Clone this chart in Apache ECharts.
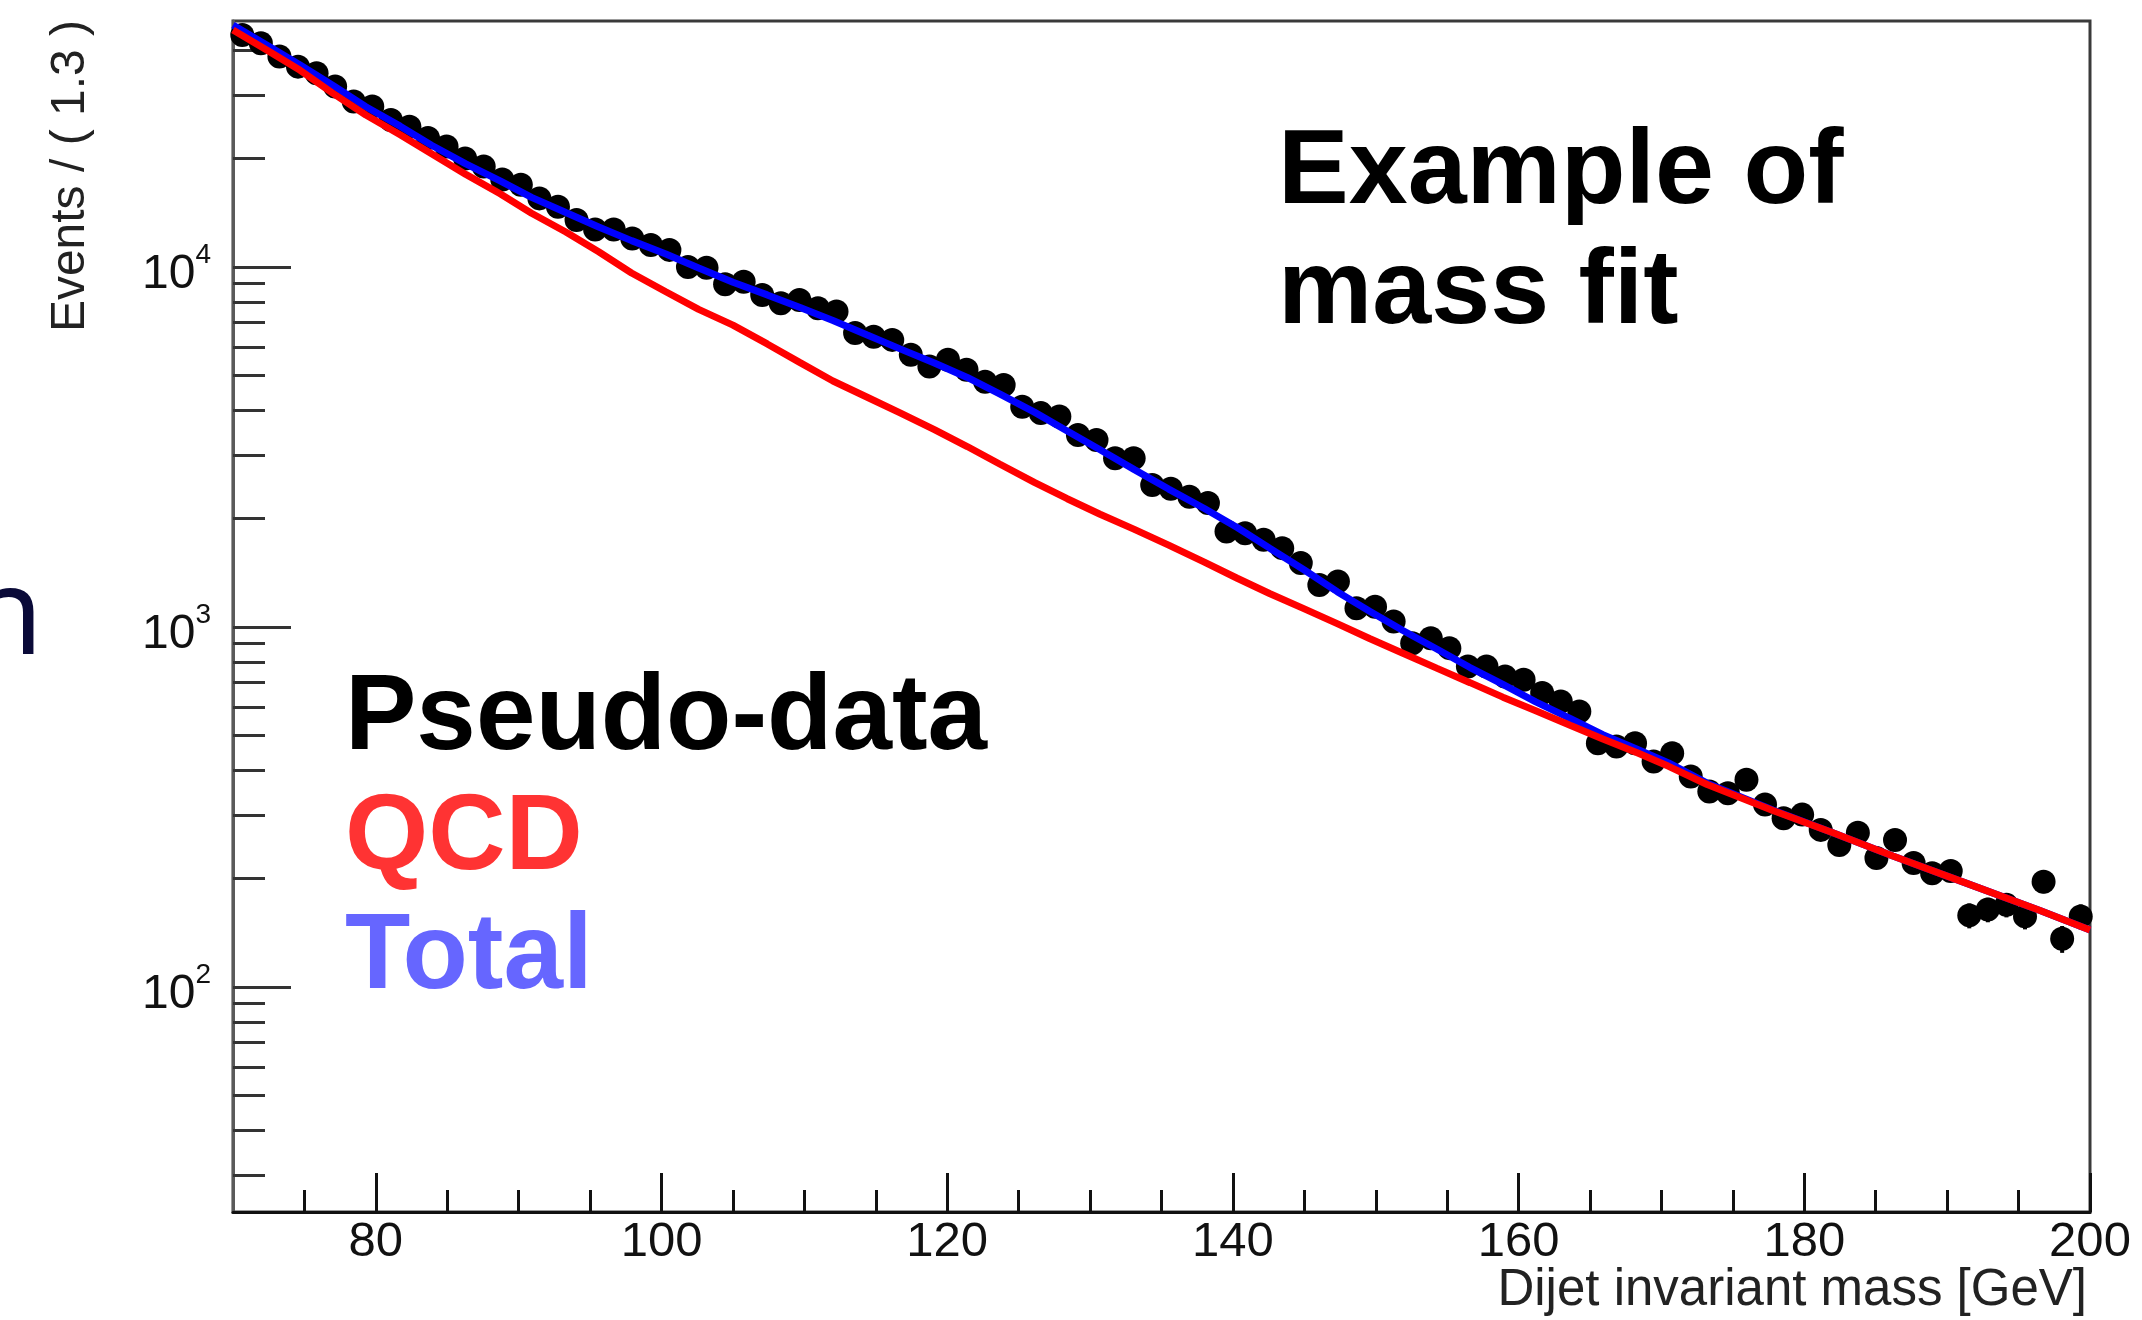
<!DOCTYPE html>
<html><head><meta charset="utf-8">
<script src="https://cdn.jsdelivr.net/npm/echarts@6/dist/echarts.min.js"></script>
<style>html,body{margin:0;padding:0;background:#fff}#c{width:2142px;height:1320px}</style>
</head><body><div id="c"></div>
<script>
// ---- data ----
const binWidth = 1.3;
const binCenters = [70.65,71.95,73.25,74.55,75.85,77.15,78.45,79.75,81.05,82.35,83.65,84.95,86.25,87.55,88.85,90.15,91.45,92.75,94.05,95.35,96.65,97.95,99.25,100.55,101.85,103.15,104.45,105.75,107.05,108.35,109.65,110.95,112.25,113.55,114.85,116.15,117.45,118.75,120.05,121.35,122.65,123.95,125.25,126.55,127.85,129.15,130.45,131.75,133.05,134.35,135.65,136.95,138.25,139.55,140.85,142.15,143.45,144.75,146.05,147.35,148.65,149.95,151.25,152.55,153.85,155.15,156.45,157.75,159.05,160.35,161.65,162.95,164.25,165.55,166.85,168.15,169.45,170.75,172.05,173.35,174.65,175.95,177.25,178.55,179.85,181.15,182.45,183.75,185.05,186.35,187.65,188.95,190.25,191.55,192.85,194.15,195.45,196.75,198.05,199.35];
const pseudoData = [44100,41800,38400,36000,34500,31700,28800,27900,25600,24500,22800,21600,20000,19000,17500,16900,15500,14700,13500,12700,12700,12000,11500,11150,10000,9950,8950,9100,8360,7930,8090,7680,7520,6550,6400,6270,5700,5290,5520,5180,4800,4700,4090,3925,3840,3410,3305,2940,2940,2480,2420,2300,2210,1840,1820,1745,1655,1505,1308,1337,1127,1138,1035,901,930,873,776,776,728,713,655,621,582,475,465,475,423,446,384,349,345,376,321,294,301,273,248,268,228,256,221,207,210,158,164,169,157,196,136,157];
const qcdMass = [70,72.3,74.7,77.0,79.3,81.7,83.9,86.3,88.7,90.9,93.3,95.6,97.9,100.3,102.6,105.0,107.4,109.7,112.0,114.4,116.7,119.1,121.4,123.7,126.1,128.4,130.7,133.1,135.5,138.0,140.3,142.6,145.0,147.3,149.6,151.9,154.3,156.6,158.9,161.2,163.6,165.9,168.3,170.5,173.2,177.8,182.0,186.2,190.9,196.5,200];
const qcdValues = [45500,40180,35160,30340,26420,23280,20610,18070,15960,14090,12500,11020,9620,8530,7620,6890,6110,5420,4820,4345,3930,3530,3170,2830,2520,2270,2056,1866,1687,1514,1365,1236,1122,1021,927,845,767,700,638,585,533,488,447,410,365,309,268,231,197,163,144];
const totalMass = [70,72.3,74.7,77.0,79.3,81.7,83.9,86.3,88.7,90.9,93.3,95.6,97.9,100.3,102.6,105.0,107.4,109.7,112.0,114.4,116.7,119.1,121.4,123.7,126.1,128.4,130.7,133.1,135.5,138.0,140.3,142.6,145.0,147.3,149.6,151.9,154.3,156.6,158.9,161.2,163.6,165.9,168.3,170.5,173.2,177.8,182.0,186.2,190.9,196.5,200];
const totalValues = [46990,41500,36390,31920,27860,24600,21780,19320,17340,15600,14160,12910,11830,10860,9930,9060,8360,7710,7100,6470,5920,5410,4930,4430,3950,3500,3105,2735,2415,2133,1888,1652,1439,1253,1104,977,867,771,692,619,557,502,457,419,368,310,268,231,197,163,144];
const xMajorTicks = [80,100,120,140,160,180,200];
const xMinorTicks = [75,85,90,95,105,110,115,125,130,135,145,150,155,165,170,175,185,190,195];
const yMajorTicks = [100,1000,10000];
const yMinorTicks = [30,40,50,60,70,80,90,200,300,400,500,600,700,800,900,2000,3000,4000,5000,6000,7000,8000,9000,20000,30000,40000];
const xRange = [70,200];
const yRange = [23.7,48200];
const xTitle = 'Dijet invariant mass [GeV]';
const yTitle = 'Events / ( 1.3 )';

const FONT = '"Liberation Sans", Arial, Helvetica, sans-serif';
const zip = (a,b) => a.map((v,i)=>[v,b[i]]);
const errData = binCenters.map((c,i)=>[c, pseudoData[i], Math.sqrt(pseudoData[i])]);

function renderErr(params, api){
  const x = api.value(0), y = api.value(1), e = api.value(2);
  const l = api.coord([x - binWidth/2, y]), r = api.coord([x + binWidth/2, y]);
  const t = api.coord([x, y + e]), b = api.coord([x, y - e]);
  return {type:'group', children:[
    {type:'line', shape:{x1:l[0], y1:l[1], x2:r[0], y2:r[1]}, style:{stroke:'#000', lineWidth:4}},
    {type:'line', shape:{x1:t[0], y1:t[1], x2:b[0], y2:b[1]}, style:{stroke:'#000', lineWidth:4}}
  ]};
}

const chart = echarts.init(document.getElementById('c'), null, {renderer:'canvas'});
chart.setOption({
  animation:false,
  backgroundColor:'#ffffff',
  grid:{left:233, right:52, top:21, bottom:108, show:true, borderColor:'#3a3a3a', borderWidth:3, outerBoundsMode:'none', containLabel:false},
  xAxis:[
    {type:'value', min:xRange[0], max:xRange[1], position:'bottom',
     axisLine:{show:true, onZero:false, lineStyle:{color:'#111', width:3}},
     axisTick:{show:true, inside:true, length:39, customValues:xMajorTicks, lineStyle:{color:'#111', width:3}},
     axisLabel:{show:true, customValues:xMajorTicks, margin:6, color:'#111', fontSize:49, fontFamily:FONT},
     splitLine:{show:false}},
    {type:'value', min:xRange[0], max:xRange[1], position:'bottom', offset:0,
     axisLine:{show:false},
     axisTick:{show:true, inside:true, length:22, customValues:xMinorTicks, lineStyle:{color:'#111', width:3}},
     axisLabel:{show:false}, splitLine:{show:false}}
  ],
  yAxis:[
    {type:'log', logBase:10, min:yRange[0], max:yRange[1], position:'left',
     axisLine:{show:true, onZero:false, lineStyle:{color:'#5a5a5a', width:3}},
     axisTick:{show:true, inside:true, length:58, customValues:yMajorTicks, lineStyle:{color:'#333', width:3}},
     axisLabel:{show:true, customValues:yMajorTicks, margin:22,
       formatter:function(v){ return '{b|10}{s|' + Math.round(Math.log10(v)) + '}'; },
       rich:{
         b:{fontSize:48, fontFamily:FONT, color:'#111', padding:[16,0,0,0]},
         s:{fontSize:28, fontFamily:FONT, color:'#111', verticalAlign:'top', padding:[6,0,0,0]}
       }},
     splitLine:{show:false}},
    {type:'log', logBase:10, min:yRange[0], max:yRange[1], position:'left', offset:0,
     axisLine:{show:false},
     axisTick:{show:true, inside:true, length:32, customValues:yMinorTicks, lineStyle:{color:'#333', width:3}},
     axisLabel:{show:false}, splitLine:{show:false}}
  ],
  series:[
    {name:'errors', type:'custom', xAxisIndex:0, yAxisIndex:0, data:errData, renderItem:renderErr,
     encode:{x:0, y:1}, clip:true, z:1, silent:true},
    {name:'Pseudo-data', type:'scatter', xAxisIndex:0, yAxisIndex:0, data:zip(binCenters, pseudoData),
     symbol:'circle', symbolSize:24, itemStyle:{color:'#000', opacity:1}, z:2},
    {name:'Total', type:'line', xAxisIndex:0, yAxisIndex:0, data:zip(totalMass, totalValues),
     showSymbol:false, symbol:'none', lineStyle:{color:'#0000ff', width:7}, z:3},
    {name:'QCD', type:'line', xAxisIndex:0, yAxisIndex:0, data:zip(qcdMass, qcdValues),
     showSymbol:false, symbol:'none', lineStyle:{color:'#ff0000', width:7}, z:4}
  ],
  graphic:[
    {type:'text', x:71, y:20, rotation:Math.PI/2, z:10,
     style:{text:yTitle, font:'48px ' + FONT, fill:'#222', align:'right', verticalAlign:'middle', textAlign:'right', textVerticalAlign:'middle'}},
    {type:'text', x:2087, y:1291, z:10,
     style:{text:xTitle, font:'51px ' + FONT, fill:'#222', align:'right', verticalAlign:'middle', textAlign:'right', textVerticalAlign:'middle'}},
    {type:'text', x:1278, y:174, z:10,
     style:{text:'Example of', font:'bold 106px ' + FONT, fill:'#000', align:'left', verticalAlign:'middle', textAlign:'left', textVerticalAlign:'middle'}},
    {type:'text', x:1278, y:294, z:10,
     style:{text:'mass fit', font:'bold 106px ' + FONT, fill:'#000', align:'left', verticalAlign:'middle', textAlign:'left', textVerticalAlign:'middle'}},
    {type:'text', x:345, y:719, z:10,
     style:{text:'Pseudo-data', font:'bold 107px ' + FONT, fill:'#000', align:'left', verticalAlign:'middle', textAlign:'left', textVerticalAlign:'middle'}},
    {type:'text', x:345, y:839, z:10,
     style:{text:'QCD', font:'bold 107px ' + FONT, fill:'#ff3333', align:'left', verticalAlign:'middle', textAlign:'left', textVerticalAlign:'middle'}},
    {type:'text', x:345, y:958, z:10,
     style:{text:'Total', font:'bold 107px ' + FONT, fill:'#6666ff', align:'left', verticalAlign:'middle', textAlign:'left', textVerticalAlign:'middle'}},
    {type:'text', x:-31, y:620, z:10,
     style:{text:'n', font:'120px "Noto Sans", sans-serif', fill:'#0a0a38', align:'left', verticalAlign:'middle', textAlign:'left', textVerticalAlign:'middle'}}
  ]
});
</script>
</body></html>
